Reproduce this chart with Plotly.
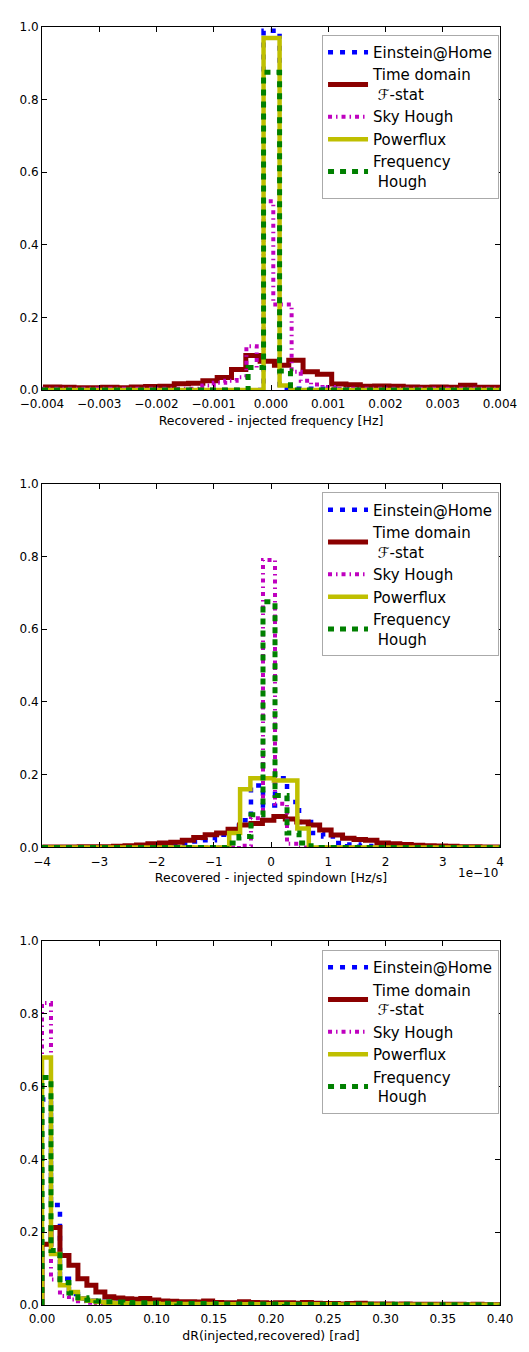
import plotly.graph_objects as go

# ---------------- data ----------------
series_names = ["Einstein@Home", "Time domain<br>\u00a0\u2131-stat", "Sky Hough", "Powerflux", "Frequency<br>\u00a0Hough"]

# Panel 1: recovered - injected frequency [Hz]
f_blue_edges = [-0.004, -0.00013, 0.00015, 0.004]
f_blue_vals = [0.0, 0.99, 0.003]

f_red_edges = [-0.00394, -0.00369, -0.00344, -0.00319, -0.00294, -0.00269, -0.00244, -0.00219,
               -0.00194, -0.00169, -0.00144, -0.00119, -0.00094, -0.00069, -0.00044, -0.00019,
               0.00006, 0.00031, 0.00056, 0.00081, 0.00106, 0.00131, 0.00156, 0.00181,
               0.00206, 0.00231, 0.00256, 0.00281, 0.00306, 0.00331, 0.00356, 0.00381, 0.00406]
f_red_vals = [0.008, 0.007, 0.006, 0.006, 0.007, 0.006, 0.008, 0.009,
              0.010, 0.017, 0.018, 0.025, 0.034, 0.056, 0.095, 0.079,
              0.068, 0.082, 0.050, 0.043, 0.016, 0.014, 0.010, 0.011,
              0.010, 0.008, 0.007, 0.008, 0.007, 0.013, 0.007, 0.007]

f_mag_edges = [-0.004, -0.0012, -0.001, -0.0008, -0.0006, -0.00043, -0.00025, -0.00013,
               0.00004, 0.00036, 0.00052, 0.0007, 0.0009, 0.0011, 0.004]
f_mag_vals = [0.003, 0.012, 0.02, 0.025, 0.035, 0.12, 0.06, 0.52, 0.235, 0.05, 0.025, 0.015, 0.008, 0.003]

f_yel_edges = [-0.004, -0.00013, 0.00015, 0.00034, 0.004]
f_yel_vals = [0.0, 0.97, 0.012, 0.0]

f_grn_edges = [-0.004, -0.0004, -0.00013, 0.00015, 0.00034, 0.004]
f_grn_vals = [0.0, 0.062, 0.875, 0.052, 0.0]

# Panel 2: recovered - injected spindown [1e-10 Hz/s]
s_blue_edges = [-4.0, -1.82, -1.61, -1.40, -1.19, -0.98, -0.77, -0.56, -0.35, -0.14, 0.07,
                0.28, 0.49, 0.70, 0.91, 1.12, 1.33, 1.54, 1.75, 4.0]
s_blue_vals = [0.0, 0.004, 0.01, 0.016, 0.02, 0.035, 0.05, 0.075, 0.17, 0.115, 0.19,
               0.125, 0.07, 0.04, 0.03, 0.012, 0.008, 0.004, 0.0]

s_red_edges = [-3.95, -3.75, -3.55, -3.35, -3.15, -2.95, -2.75, -2.55, -2.35, -2.15,
               -1.95, -1.75, -1.55, -1.35, -1.15, -0.95, -0.75, -0.55, -0.35, -0.15,
               0.05, 0.25, 0.45, 0.65, 0.85, 1.05, 1.25, 1.45, 1.65, 1.85,
               2.05, 2.25, 2.45, 2.65, 2.85, 3.05, 3.25, 3.45, 3.65, 3.85, 4.05]
s_red_vals = [0.001, 0.001, 0.001, 0.002, 0.002, 0.002, 0.003, 0.005, 0.007, 0.010,
              0.012, 0.014, 0.020, 0.027, 0.035, 0.040, 0.050, 0.062, 0.066, 0.075,
              0.085, 0.078, 0.070, 0.062, 0.048, 0.034, 0.025, 0.022, 0.020, 0.012,
              0.010, 0.008, 0.006, 0.005, 0.004, 0.003, 0.002, 0.002, 0.001, 0.001]

s_mag_edges = [-4.0, -0.56, -0.35, -0.14, 0.07, 0.28, 0.49, 4.0]
s_mag_vals = [0.0, 0.005, 0.08, 0.79, 0.12, 0.01, 0.0]

s_yel_edges = [-4.0, -0.73, -0.54, -0.36, 0.05, 0.46, 0.66, 4.0]
s_yel_vals = [0.0, 0.04, 0.16, 0.19, 0.184, 0.052, 0.0]

s_grn_edges = [-4.0, -0.77, -0.56, -0.35, -0.14, 0.07, 0.28, 0.49, 0.70, 4.0]
s_grn_vals = [0.0, 0.012, 0.03, 0.09, 0.675, 0.143, 0.04, 0.012, 0.0]

# Panel 3: dR(injected, recovered) [rad], 51 equal bins on [0, 0.4]
dr_range = [0.0, 0.4]
dr_blue_vals = [0.565, 0.275, 0.072, 0.030, 0.018, 0.012, 0.009, 0.007, 0.006, 0.005,
                0.004, 0.004, 0.004, 0.003, 0.003, 0.003, 0.003, 0.002, 0.002, 0.002,
                0.002, 0.002, 0.002, 0.002, 0.002, 0.001, 0.001, 0.001, 0.001, 0.001,
                0.001, 0.001, 0.001, 0.001, 0.001, 0.001, 0.001, 0.001, 0.001, 0.001,
                0.001, 0.001, 0.001, 0.001, 0.001, 0.001, 0.001, 0.001, 0.001, 0.001, 0.001]
dr_red_vals = [0.167, 0.213, 0.136, 0.109, 0.072, 0.054, 0.036, 0.023, 0.019, 0.017,
               0.016, 0.018, 0.014, 0.011, 0.010, 0.009, 0.009, 0.008, 0.011, 0.007,
               0.006, 0.006, 0.009, 0.007, 0.006, 0.005, 0.006, 0.006, 0.005, 0.007,
               0.005, 0.004, 0.004, 0.003, 0.004, 0.005, 0.003, 0.003, 0.003, 0.002,
               0.003, 0.002, 0.002, 0.002, 0.002, 0.002, 0.002, 0.001, 0.002, 0.001, 0.001]
dr_mag_vals = [0.830, 0.070, 0.025, 0.015, 0.010, 0.006, 0.004, 0.003, 0.002, 0.002,
               0.002, 0.002, 0.001, 0.001, 0.001, 0.001, 0.001, 0.001, 0.001, 0.001,
               0.001, 0.001, 0.001, 0.001, 0.001, 0.001, 0.001, 0.001, 0.001, 0.001,
               0.001, 0.001, 0.001, 0.001, 0.001, 0.001, 0.001, 0.001, 0.001, 0.001,
               0.001, 0.001, 0.001, 0.001, 0.001, 0.001, 0.001, 0.001, 0.001, 0.001, 0.001]
dr_yel_vals = [0.680, 0.140, 0.054, 0.036, 0.018, 0.012, 0.008, 0.006, 0.005, 0.005,
               0.004, 0.004, 0.004, 0.003, 0.003, 0.003, 0.003, 0.003, 0.003, 0.002,
               0.002, 0.002, 0.002, 0.002, 0.002, 0.002, 0.002, 0.002, 0.002, 0.002,
               0.002, 0.002, 0.002, 0.001, 0.001, 0.001, 0.001, 0.001, 0.001, 0.001,
               0.001, 0.001, 0.001, 0.001, 0.001, 0.001, 0.001, 0.001, 0.001, 0.001, 0.001]
dr_grn_vals = [0.625, 0.150, 0.062, 0.033, 0.020, 0.014, 0.011, 0.009, 0.008, 0.007,
               0.006, 0.006, 0.005, 0.005, 0.005, 0.004, 0.004, 0.004, 0.004, 0.004,
               0.003, 0.003, 0.003, 0.003, 0.003, 0.003, 0.003, 0.002, 0.002, 0.002,
               0.002, 0.002, 0.002, 0.002, 0.002, 0.002, 0.002, 0.002, 0.002, 0.002,
               0.002, 0.001, 0.001, 0.001, 0.001, 0.001, 0.001, 0.001, 0.001, 0.001, 0.001]

# tick labels
f_ticks = [-0.004, -0.003, -0.002, -0.001, 0.0, 0.001, 0.002, 0.003, 0.004]
f_ticklabels = ["\u22120.004", "\u22120.003", "\u22120.002", "\u22120.001", "0.000", "0.001", "0.002", "0.003", "0.004"]
s_ticks = [-4, -3, -2, -1, 0, 1, 2, 3, 4]
s_ticklabels = ["\u22124", "\u22123", "\u22122", "\u22121", "0", "1", "2", "3", "4"]
dr_ticks = [0.0, 0.05, 0.10, 0.15, 0.20, 0.25, 0.30, 0.35, 0.40]
dr_ticklabels = ["0.00", "0.05", "0.10", "0.15", "0.20", "0.25", "0.30", "0.35", "0.40"]
y_ticks = [0.0, 0.2, 0.4, 0.6, 0.8, 1.0]
y_ticklabels = ["0.0", "0.2", "0.4", "0.6", "0.8", "1.0"]

# ---------------- styles ----------------
colors = ["#0000ff", "#8b0000", "#bf00bf", "#bfbf00", "#008000"]
dashes = ["5px,7px", "solid", "4px,4px,1.5px,4px", "solid", "6px,6px"]
widths = [4.5, 5, 4, 4.5, 5]
FONT = "DejaVu Sans"


def step_xy(edges, vals):
    x = [edges[0]] + list(edges[:-1]) + [edges[-1]]
    y = [0.0] + list(vals) + [0.0]
    return x, y


def uniform_edges(rng, n):
    w = (rng[1] - rng[0]) / n
    return [rng[0] + i * w for i in range(n + 1)]


panels = [
    [(f_blue_edges, f_blue_vals), (f_red_edges, f_red_vals), (f_mag_edges, f_mag_vals),
     (f_yel_edges, f_yel_vals), (f_grn_edges, f_grn_vals)],
    [(s_blue_edges, s_blue_vals), (s_red_edges, s_red_vals), (s_mag_edges, s_mag_vals),
     (s_yel_edges, s_yel_vals), (s_grn_edges, s_grn_vals)],
    [(uniform_edges(dr_range, len(v)), v) for v in
     [dr_blue_vals, dr_red_vals, dr_mag_vals, dr_yel_vals, dr_grn_vals]],
]

fig = go.Figure()
legend_ids = ["legend", "legend2", "legend3"]
for p, series in enumerate(panels):
    xa = "x" if p == 0 else f"x{p+1}"
    ya = "y" if p == 0 else f"y{p+1}"
    for i, (edges, vals) in enumerate(series):
        x, y = step_xy(edges, vals)
        fig.add_trace(go.Scatter(
            x=x, y=y, mode="lines", line_shape="hv",
            line=dict(color=colors[i], width=widths[i], dash=dashes[i]),
            name=series_names[i], xaxis=xa, yaxis=ya, legend=legend_ids[p],
        ))

# page is offset by the default 8px body margin: compensate
OFF = 8
W, H = 529 - OFF, 1352 - OFF
ml, mr = 33 - OFF, 25
mt, mb = 21 - OFF, 35
pw = W - ml - mr
ph = H - mt - mb
# panel pixel extents in page coords (top, bottom)
panel_px = [(21, 389), (484, 853), (948, 1317)]
ydoms = [[(1352 - 35 - b) / ph, (1352 - 35 - t) / ph] for t, b in panel_px]

axis_common = dict(showline=True, linecolor="black", linewidth=1, mirror="ticks",
                   ticks="inside", ticklen=5, tickcolor="black", tickwidth=1,
                   showgrid=False, zeroline=False,
                   tickfont=dict(family=FONT, size=12, color="black"))

xinfo = [
    ([-0.004, 0.004], f_ticks, f_ticklabels, "Recovered - injected frequency [Hz]"),
    ([-4, 4], s_ticks, s_ticklabels, "Recovered - injected spindown [Hz/s]"),
    ([0, 0.4], dr_ticks, dr_ticklabels, "dR(injected,recovered) [rad]"),
]

layout = dict(
    width=W, height=H, margin=dict(l=ml, r=mr, t=mt, b=mb),
    paper_bgcolor="white", plot_bgcolor="white",
    font=dict(family=FONT, color="black"),
)
for p in range(3):
    xk = "xaxis" if p == 0 else f"xaxis{p+1}"
    yk = "yaxis" if p == 0 else f"yaxis{p+1}"
    rng, tv, tt, title = xinfo[p]
    layout[xk] = dict(axis_common, domain=[0, 1], range=rng, tickvals=tv, ticktext=tt,
                      anchor="y" if p == 0 else f"y{p+1}", ticklabelstandoff=3,
                      title=dict(text=title, font=dict(family=FONT, size=12.5), standoff=5))
    layout[yk] = dict(axis_common, domain=ydoms[p], range=[0, 1.0], tickvals=y_ticks,
                      ticktext=y_ticklabels, anchor="x" if p == 0 else f"x{p+1}")
    lk = legend_ids[p]
    legend_top_px = [29, 493, 957][p]
    legend_right_px = 503
    layout[lk] = dict(x=(legend_right_px - 33) / pw, xanchor="right",
                      y=(1352 - 35 - legend_top_px) / ph, yanchor="top",
                      bgcolor="white", bordercolor="#aaaaaa", borderwidth=1,
                      font=dict(family=FONT, size=15, color="black"),
                      itemwidth=40, tracegroupgap=0)

fig.update_layout(**layout)
fig.add_annotation(text="1e\u221210", xref="x2 domain", yref="y2 domain", x=1.0, y=-0.07,
                   xanchor="right", yanchor="middle", showarrow=False,
                   font=dict(family=FONT, size=12, color="black"))

fig.write_html("out.html")
